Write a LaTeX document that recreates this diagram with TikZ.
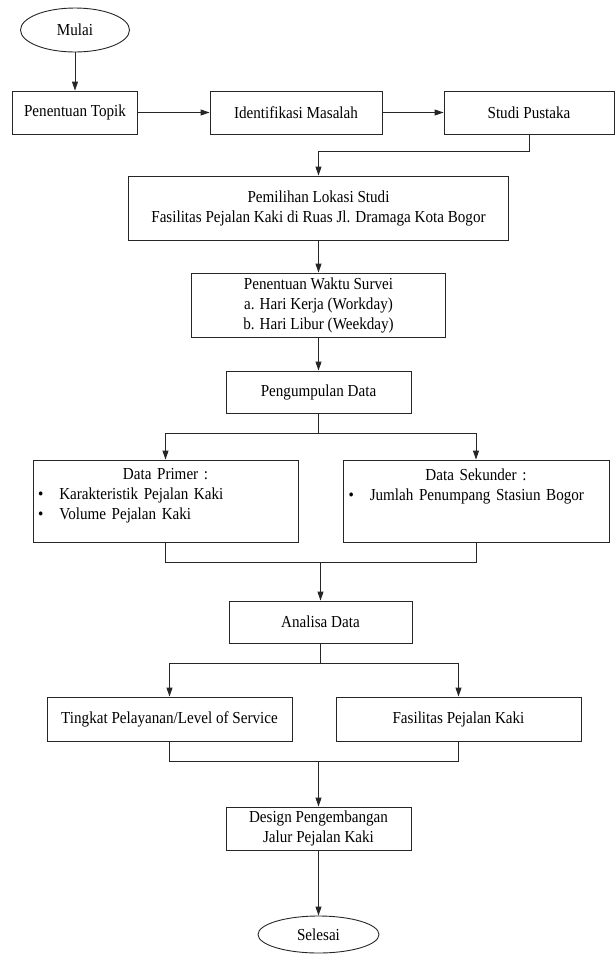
\documentclass[tikz,border=0pt]{standalone}
\usepackage{fontspec}
\setmainfont{Liberation Serif}[FakeStretch=0.9]
\usetikzlibrary{shapes.geometric,arrows.meta}
\def\fs{\fontsize{16.8pt}{20pt}\selectfont}
\def\bul{\noindent\textbullet\hspace{16pt}}

\begin{document}
\begin{tikzpicture}[x=1pt, y=-1pt,
	box/.style={draw=black!85, line width=0.9pt, inner sep=0pt, align=center, font=\fs},
	oval/.style={draw=black!85, line width=0.9pt, ellipse, inner sep=0pt, font=\fs},
	listtext/.style={font=\fs, text width=255pt, align=left, anchor=north, inner sep=0pt},
	arr/.style={draw=black!85, line width=0.9pt, -{Triangle[length=9pt,width=6pt]}},
	ln/.style={draw=black!85, line width=0.9pt}]
	\useasboundingbox (0,0) rectangle (615,954);
	\node[oval, minimum width=109pt, minimum height=44pt] (mulai) at (75,30) {Mulai};
	\node[box, minimum width=125pt, minimum height=43pt] (topik) at (75,112.5) {Penentuan Topik};
	\node[box, minimum width=172pt, minimum height=43pt] (masalah) at (296,112.5) {Identifikasi Masalah};
	\node[box, minimum width=170pt, minimum height=43pt] (pustaka) at (529,112.5) {Studi Pustaka};
	\node[box, minimum width=380pt, minimum height=64pt] (lokasi) at (318.5,208) {Pemilihan Lokasi Studi\\Fasilitas Pejalan Kaki di Ruas Jl. Dramaga Kota Bogor};
	\node[box, minimum width=254pt, minimum height=64pt] (waktu) at (318.5,305) {Penentuan Waktu Survei\\a. Hari Kerja (Workday)\\b. Hari Libur (Weekday)};
	\node[box, minimum width=185pt, minimum height=42pt] (kumpul) at (318.5,392) {Pengumpulan Data};
	\node[box, minimum width=265pt, minimum height=82pt] (primer) at (165.5,501) {};
	\node[listtext] (primertxt) at ([yshift=-9pt]primer.north) {{\centering\noindent Data Primer :\par}\bul Karakteristik Pejalan Kaki\par\bul Volume Pejalan Kaki};
	\node[box, minimum width=266pt, minimum height=82pt] (sekunder) at (476,501) {};
	\node[listtext] (sekundertxt) at ([yshift=-9pt]sekunder.north) {{\centering\noindent Data Sekunder :\par}\bul Jumlah Penumpang Stasiun Bogor};
	\node[box, minimum width=183pt, minimum height=42pt] (analisa) at (320.5,622) {Analisa Data};
	\node[box, minimum width=245pt, minimum height=44pt] (los) at (169.5,719) {Tingkat Pelayanan/Level of Service};
	\node[box, minimum width=245pt, minimum height=44pt] (fasilitas) at (458.5,719) {Fasilitas Pejalan Kaki};
	\node[box, minimum width=185pt, minimum height=43pt] (design) at (318.5,828.5) {Design Pengembangan\\Jalur Pejalan Kaki};
	\node[oval, minimum width=121pt, minimum height=37pt] (selesai) at (318.5,934.5) {Selesai};
	\coordinate (k1) at (318.5,151);
	\coordinate (k2) at (318.5,433);
	\coordinate (k3) at (320.5,562);
	\coordinate (k4) at (320.5,663);
	\coordinate (k5) at (318.5,761);
	\draw[arr] (mulai) -- (topik);
	\draw[arr] (topik) -- (masalah);
	\draw[arr] (masalah) -- (pustaka);
	\draw[arr] (pustaka.south) |- (k1) -- (lokasi.north);
	\draw[arr] (lokasi) -- (waktu);
	\draw[arr] (waktu) -- (kumpul);
	\draw[ln] (kumpul.south) -- (k2);
	\draw[arr] (k2) -| (primer.north);
	\draw[arr] (k2) -| (sekunder.north);
	\draw[ln] (primer.south) |- (k3);
	\draw[ln] (sekunder.south) |- (k3);
	\draw[arr] (k3) -- (analisa.north);
	\draw[ln] (analisa.south) -- (k4);
	\draw[arr] (k4) -| (los.north);
	\draw[arr] (k4) -| (fasilitas.north);
	\draw[ln] (los.south) |- (k5);
	\draw[ln] (fasilitas.south) |- (k5);
	\draw[arr] (k5) -- (design.north);
	\draw[arr] (design) -- (selesai);
\end{tikzpicture}
\end{document}
